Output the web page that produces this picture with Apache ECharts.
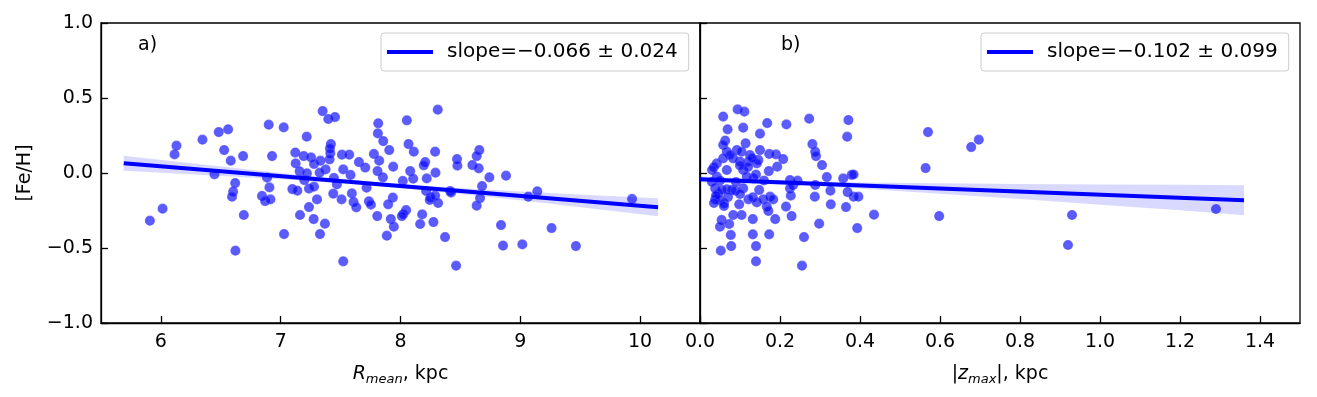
<!DOCTYPE html>
<html>
<head>
<meta charset="utf-8">
<script src="https://cdn.jsdelivr.net/npm/echarts@6/dist/echarts.min.js"></script>
<style>
html,body{margin:0;padding:0;background:#fff;}
#c{width:1317px;height:397px;}
</style>
</head>
<body>
<div id="c"></div>
<script>
// ---- data ----
const yTicks = [-1.0, -0.5, 0.0, 0.5, 1.0];
const rTicks = [6, 7, 8, 9, 10];
const zTicks = [0.0, 0.2, 0.4, 0.6, 0.8, 1.0, 1.2, 1.4];

const slopeLabelA = 'slope=\u22120.066 \u00b1 0.024';
const slopeLabelB = 'slope=\u22120.102 \u00b1 0.099';

// panel a) : R_mean (kpc), [Fe/H]
const rmeanPoints = [
[5.908,-0.318],[6.014,-0.238],[6.130,0.182],[6.114,0.124],[6.347,0.222],[6.483,0.273],[6.561,0.291],[6.447,-0.009],[6.528,0.153],[6.583,0.082],
[6.686,0.113],[6.620,-0.067],[6.603,-0.124],[6.594,-0.158],[6.692,-0.280],[6.622,-0.518],[6.900,0.322],[7.025,0.304],[6.928,0.113],[6.886,-0.031],
[6.906,-0.096],[6.844,-0.153],[6.870,-0.187],[6.914,-0.176],[7.028,-0.407],[7.122,0.136],[7.125,0.064],[7.158,0.011],[7.217,0.242],[7.192,0.113],
[7.253,0.104],[7.278,0.060],[7.219,-0.002],[7.097,-0.107],[7.139,-0.118],[7.236,-0.104],[7.278,-0.091],[7.303,-0.176],[7.236,-0.227],[7.161,-0.280],
[7.275,-0.307],[7.369,-0.338],[7.328,-0.407],[7.350,0.413],[7.397,0.360],[7.453,0.373],[7.419,0.193],[7.411,0.164],[7.414,0.131],[7.331,0.082],
[7.408,0.091],[7.375,0.024],[7.325,0.002],[7.444,-0.033],[7.469,-0.076],[7.439,-0.138],[7.511,0.122],[7.572,0.122],[7.522,0.024],[7.583,-0.013],
[7.508,-0.176],[7.594,-0.136],[7.608,-0.193],[7.631,-0.229],[7.522,-0.589],[7.653,0.073],[7.706,0.036],[7.717,-0.098],[7.736,-0.189],[7.753,-0.211],
[7.806,-0.287],[7.814,0.331],[7.811,0.264],[7.856,0.213],[7.906,0.153],[7.778,0.127],[7.822,0.082],[7.808,0.013],[7.853,-0.029],[7.939,0.042],
[7.936,-0.164],[7.897,-0.209],[7.919,-0.307],[7.944,-0.358],[7.886,-0.418],[7.197,-0.047],
[8.311,0.422],[8.053,0.351],[8.067,0.193],[8.111,0.142],[8.289,0.142],[8.206,0.073],[8.194,0.051],[8.292,0.002],[8.081,0.013],[8.106,-0.038],
[8.219,-0.036],[8.019,-0.053],[8.214,-0.120],[8.250,-0.162],[8.244,-0.180],[8.289,-0.151],[8.314,-0.200],[8.047,-0.247],[8.025,-0.273],[8.011,-0.287],
[8.181,-0.276],[8.164,-0.340],[8.275,-0.327],[8.372,-0.427],[8.464,-0.618],[8.472,0.093],[8.475,0.049],[8.600,0.053],[8.658,0.153],[8.636,0.113],
[8.653,0.031],[8.742,-0.029],[8.881,-0.018],[8.414,-0.120],[8.422,-0.131],[8.681,-0.087],[8.664,-0.167],[8.636,-0.218],[8.839,-0.347],[8.856,-0.484],
[9.017,-0.476],[9.067,-0.158],[9.142,-0.122],[9.261,-0.367],[9.464,-0.487],[9.933,-0.173]
];
const fitAX = [5.69, 10.15];
const fitAY = [0.065, -0.229];
const bandAX  = [5.69, 6.2, 6.7, 7.2, 7.7, 8.2, 8.7, 9.2, 9.7, 10.15];
const bandALo = [0.015, -0.006, -0.028, -0.052, -0.080, -0.115, -0.156, -0.200, -0.246, -0.289];
const bandAHi = [0.115, 0.070, 0.026, -0.016, -0.054, -0.085, -0.110, -0.132, -0.152, -0.169];

// panel b) : |z_max| (kpc), [Fe/H]
const zmaxPoints = [
[0.094,0.424],[0.111,0.409],[0.058,0.376],[0.069,0.291],[0.108,0.302],[0.168,0.333],[0.216,0.324],[0.150,0.262],[0.063,0.216],[0.058,0.187],
[0.114,0.198],[0.067,0.142],[0.092,0.153],[0.104,0.142],[0.125,0.120],[0.150,0.153],[0.173,0.127],[0.190,0.124],[0.208,0.093],[0.193,0.042],
[0.172,0.013],[0.146,0.087],[0.142,0.064],[0.121,0.076],[0.100,0.076],[0.083,0.098],[0.075,0.120],[0.058,0.098],[0.042,0.064],[0.067,0.020],
[0.108,0.020],[0.117,-0.024],[0.133,-0.036],[0.042,-0.024],[0.225,-0.047],[0.233,-0.080],[0.225,-0.102],[0.227,-0.151],[0.038,-0.102],[0.046,-0.136],
[0.054,-0.113],[0.067,-0.109],[0.079,-0.113],[0.088,-0.118],[0.038,-0.176],[0.050,-0.180],[0.060,-0.202],[0.108,-0.102],[0.148,-0.113],[0.121,-0.176],
[0.132,-0.162],[0.142,-0.196],[0.158,-0.176],[0.175,-0.158],[0.183,-0.176],[0.167,-0.224],[0.171,-0.253],[0.098,-0.209],[0.083,-0.280],[0.104,-0.280],
[0.132,-0.307],[0.188,-0.307],[0.215,-0.224],[0.229,-0.287],[0.054,-0.313],[0.050,-0.358],[0.073,-0.340],[0.077,-0.413],[0.132,-0.409],[0.173,-0.409],
[0.052,-0.518],[0.078,-0.487],[0.140,-0.487],[0.140,-0.589],
[0.035,0.040],[0.030,-0.060],[0.040,-0.150],[0.035,-0.200],[0.030,0.020],[0.050,-0.050],[0.120,0.040],[0.130,0.100],[0.140,-0.010],[0.100,0.050],
[0.090,-0.060],[0.160,-0.050],[0.070,-0.160],[0.060,-0.220],[0.100,-0.140],
[0.255,-0.618],[0.260,-0.427],[0.298,-0.338],[0.393,-0.367],[0.435,-0.278],[0.598,-0.287],[0.564,0.033],[0.570,0.273],[0.678,0.173],[0.697,0.222],
[0.273,0.362],[0.371,0.353],[0.368,0.242],[0.281,0.193],[0.288,0.142],[0.290,0.113],[0.305,0.053],[0.317,-0.027],[0.358,-0.036],[0.379,-0.013],
[0.384,-0.010],[0.288,-0.080],[0.326,-0.118],[0.369,-0.127],[0.384,-0.158],[0.396,-0.158],[0.287,-0.158],[0.327,-0.209],[0.365,-0.227],[0.244,-0.051],
[0.930,-0.280],[0.920,-0.480],[1.290,-0.240]
];
const fitBX = [0.0, 1.36];
const fitBY = [-0.042, -0.181];
const bandBX  = [0.0, 0.2, 0.4, 0.6, 0.8, 1.0, 1.2, 1.36];
const bandBLo = [-0.062, -0.076, -0.103, -0.138, -0.174, -0.212, -0.249, -0.281];
const bandBHi = [-0.022, -0.048, -0.063, -0.068, -0.074, -0.076, -0.079, -0.081];

// ---- chart ----
const FONT = 'DejaVu Sans';
const fmtY = v => (v < 0 ? '\u2212' : '') + Math.abs(v).toFixed(1);
const zip = (xs, ys) => xs.map((x, i) => [x, ys[i]]);

const chart = echarts.init(document.getElementById('c'), null, {renderer: 'canvas'});

const commonY = (gi, showLabels) => ({
  type: 'value', gridIndex: gi, min: -1, max: 1, interval: 0.5,
  axisLine: {show: true, onZero: false, lineStyle: {color: '#000', width: 1.3}},
  axisTick: {show: true, inside: true, length: 7, lineStyle: {color: '#000', width: 1.3}},
  axisLabel: {show: showLabels, formatter: fmtY, color: '#000', fontSize: 19, fontFamily: FONT, margin: 8},
  splitLine: {show: false},
  name: showLabels ? '[Fe/H]' : '', nameLocation: 'middle', nameGap: 66, nameRotate: 90,
  nameTextStyle: {color: '#000', fontSize: 19, fontFamily: FONT}
});

const scatterStyle = {
  color: 'rgba(0,0,250,0.8)',
  borderColor: 'rgba(70,70,255,0.85)',
  borderWidth: 1.2
};

// band polygon drawn through the axes' coordinate system
function bandSeries(axisIdx, xs, lo, hi) {
  const data = xs.map((x, i) => [x, lo[i], hi[i]]);
  return {
    type: 'custom', xAxisIndex: axisIdx, yAxisIndex: axisIdx, data: data, silent: true, z: 3,
    renderItem: function (params, api) {
      if (params.dataIndex !== 0) return null;
      const upper = data.map(d => api.coord([d[0], d[2]]));
      const lower = data.slice().reverse().map(d => api.coord([d[0], d[1]]));
      return {
        type: 'polygon',
        shape: {points: upper.concat(lower)},
        style: {fill: 'rgba(0,0,255,0.15)', stroke: 'none'}
      };
    },
    encode: {x: 0, y: [1, 2]}
  };
}

const option = {
  animation: false,
  backgroundColor: '#fff',
  textStyle: {fontFamily: FONT},
  grid: [
    {left: 101, top: 23, width: 599, height: 300, show: true, borderColor: '#000', borderWidth: 1.3, backgroundColor: 'transparent'},
    {left: 700, top: 23, width: 600, height: 300, show: true, borderColor: '#000', borderWidth: 1.3, backgroundColor: 'transparent'}
  ],
  xAxis: [
    {
      type: 'value', gridIndex: 0, min: 5.5, max: 10.5,
      axisLine: {show: true, onZero: false, lineStyle: {color: '#000', width: 1.3}},
      axisTick: {show: true, inside: true, length: 7, customValues: rTicks, lineStyle: {color: '#000', width: 1.3}},
      axisLabel: {customValues: rTicks, formatter: v => String(v), color: '#000', fontSize: 19, fontFamily: FONT, margin: 10},
      splitLine: {show: false},
      name: '{i|R}{s|mean}{n|, kpc}', nameLocation: 'middle', nameGap: 40,
      nameTextStyle: {color: '#000', fontSize: 19, fontFamily: FONT,
        rich: {
          i: {fontStyle: 'italic', fontSize: 19, fontFamily: FONT, color: '#000'},
          s: {fontStyle: 'italic', fontSize: 13, fontFamily: FONT, color: '#000', padding: [10, 0, 0, 0]},
          n: {fontSize: 19, fontFamily: FONT, color: '#000'}
        }}
    },
    {
      type: 'value', gridIndex: 1, min: 0, max: 1.5,
      axisLine: {show: true, onZero: false, lineStyle: {color: '#000', width: 1.3}},
      axisTick: {show: true, inside: true, length: 7, customValues: zTicks, lineStyle: {color: '#000', width: 1.3}},
      axisLabel: {customValues: zTicks, formatter: v => v.toFixed(1), color: '#000', fontSize: 19, fontFamily: FONT, margin: 10},
      splitLine: {show: false},
      name: '{n||}{i|z}{s|max}{n||, kpc}', nameLocation: 'middle', nameGap: 40,
      nameTextStyle: {color: '#000', fontSize: 19, fontFamily: FONT,
        rich: {
          i: {fontStyle: 'italic', fontSize: 19, fontFamily: FONT, color: '#000'},
          s: {fontStyle: 'italic', fontSize: 13, fontFamily: FONT, color: '#000', padding: [10, 0, 0, 0]},
          n: {fontSize: 19, fontFamily: FONT, color: '#000'}
        }}
    }
  ],
  yAxis: [commonY(0, true), commonY(1, false)],
  legend: [
    {
      data: [{name: slopeLabelA, icon: 'rect'}], left: 381, top: 33,
      itemWidth: 46, itemHeight: 4, padding: [9, 11, 9, 6],
      backgroundColor: '#fff', borderColor: '#cccccc', borderWidth: 1, borderRadius: 3,
      textStyle: {color: '#000', fontSize: 20, fontFamily: FONT, padding: [0, 0, 0, 9]},
      selectedMode: false
    },
    {
      data: [{name: slopeLabelB, icon: 'rect'}], left: 981, top: 33,
      itemWidth: 46, itemHeight: 4, padding: [9, 11, 9, 6],
      backgroundColor: '#fff', borderColor: '#cccccc', borderWidth: 1, borderRadius: 3,
      textStyle: {color: '#000', fontSize: 20, fontFamily: FONT, padding: [0, 0, 0, 9]},
      selectedMode: false
    }
  ],
  graphic: [
    {type: 'text', left: 138, top: 36, style: {text: 'a)', fill: '#000', font: '19px "DejaVu Sans"'}},
    {type: 'text', left: 781, top: 36, style: {text: 'b)', fill: '#000', font: '19px "DejaVu Sans"'}}
  ],
  series: [
    {type: 'scatter', xAxisIndex: 0, yAxisIndex: 0, data: rmeanPoints, symbolSize: 9, itemStyle: scatterStyle, z: 2},
    bandSeries(0, bandAX, bandALo, bandAHi),
    {name: slopeLabelA, type: 'line', xAxisIndex: 0, yAxisIndex: 0, data: zip(fitAX, fitAY), symbol: 'none',
      lineStyle: {color: '#0000ff', width: 4}, itemStyle: {color: '#0000ff'}, z: 4},

    {type: 'scatter', xAxisIndex: 1, yAxisIndex: 1, data: zmaxPoints, symbolSize: 9, itemStyle: scatterStyle, z: 2},
    bandSeries(1, bandBX, bandBLo, bandBHi),
    {name: slopeLabelB, type: 'line', xAxisIndex: 1, yAxisIndex: 1, data: zip(fitBX, fitBY), symbol: 'none',
      lineStyle: {color: '#0000ff', width: 4}, itemStyle: {color: '#0000ff'}, z: 4}
  ]
};
chart.setOption(option);
</script>
</body>
</html>
